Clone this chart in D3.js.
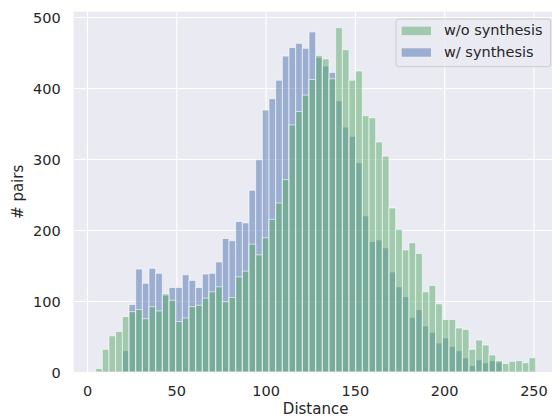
<!DOCTYPE html>
<html>
<head>
<meta charset="utf-8">
<script src="https://cdn.jsdelivr.net/npm/d3@7/dist/d3.min.js"></script>
<style>
  html, body { margin: 0; padding: 0; background: #ffffff; }
  svg { display: block; }
  text { font-family: "DejaVu Sans", sans-serif; fill: #262626; }
</style>
</head>
<body>
<svg id="chart" width="552" height="418"></svg>
<script>
// ---- data ----
const binStart = 4.85;      // left edge of first bin (Distance)
const binWidth = 3.733;     // width of each bin (Distance)
const seriesNames = ["w/o synthesis", "w/ synthesis"];
const woSynthesis = [5, 32, 51, 57, 78, 85, 88, 75, 92, 86, 110, 101, 71, 76, 92, 94, 104, 113, 120, 99,
  105, 134, 142, 180, 165, 189, 215, 238, 271, 348, 367, 390, 412, 446, 441, 413, 485, 454, 411, 424,
  361, 358, 324, 304, 231, 201, 172, 182, 167, 113, 122, 96, 74, 74, 62, 60, 32, 45, 38, 24,
  16, 12, 15, 16, 13, 20];
const wSynthesis = [0, 0, 0, 0, 30, 95, 145, 125, 146, 139, 108, 119, 119, 137, 129, 119, 138, 139, 155, 188,
  185, 212, 210, 256, 299, 369, 385, 411, 445, 457, 463, 456, 479, 443, 431, 422, 382, 345, 332, 295,
  220, 184, 186, 175, 141, 120, 106, 77, 88, 65, 56, 41, 48, 36, 30, 20, 9, 17, 13, 16,
  14, 0, 0, 0, 0, 0];
const xTicks = [0, 50, 100, 150, 200, 250];
const yTicks = [0, 100, 200, 300, 400, 500];
const xLabel = "Distance";
const yLabel = "# pairs";

// ---- layout ----
const plot = { left: 73.66, right: 557.6, top: 11.7, bottom: 372 };
const colors = { "w/o synthesis": "#55A868", "w/ synthesis": "#4C72B0" };

const svg = d3.select("#chart");
const x = d3.scaleLinear().domain([-7.47, 263.5]).range([plot.left, plot.right]);
const y = d3.scaleLinear().domain([0, 507.5]).range([plot.bottom, plot.top]);

svg.append("defs").append("clipPath").attr("id", "clip")
  .append("rect").attr("x", plot.left).attr("y", plot.top)
  .attr("width", plot.right - plot.left).attr("height", plot.bottom - plot.top);

// background
svg.append("rect").attr("x", plot.left).attr("y", plot.top)
  .attr("width", plot.right - plot.left).attr("height", plot.bottom - plot.top)
  .attr("fill", "#EAEAF2");

// gridlines via axes
const gx = svg.append("g").attr("transform", `translate(0,${plot.bottom})`)
  .call(d3.axisBottom(x).tickValues(xTicks).tickSize(-(plot.bottom - plot.top)).tickPadding(10).tickFormat(d3.format("d")));
const gy = svg.append("g").attr("transform", `translate(${plot.left},0)`)
  .call(d3.axisLeft(y).tickValues(yTicks).tickSize(-(plot.right - plot.left)).tickPadding(13).tickFormat(d3.format("d")));
[gx, gy].forEach(g => {
  g.select(".domain").remove();
  g.selectAll(".tick line").attr("stroke", "#ffffff").attr("stroke-width", 1.1);
  g.selectAll(".tick text").attr("fill", "#262626").style("font-size", "14.5px")
    .style("font-family", "DejaVu Sans, sans-serif");
});
gx.selectAll(".tick text").attr("dy", "0.71em").attr("y", 14);
gy.selectAll(".tick text").attr("dy", "0.35em");

// bars
const bars = svg.append("g").attr("clip-path", "url(#clip)");
function drawSeries(values, color) {
  const data = values.map((v, i) => ({ x0: binStart + i * binWidth, x1: binStart + (i + 1) * binWidth, v }))
    .filter(d => d.v > 0);
  bars.append("g").selectAll("rect").data(data).join("rect")
    .attr("x", d => x(d.x0))
    .attr("width", d => x(d.x1) - x(d.x0))
    .attr("y", d => y(d.v))
    .attr("height", d => y(0) - y(d.v))
    .attr("fill", color).attr("fill-opacity", 0.5)
    .attr("stroke", "#ffffff").attr("stroke-opacity", 0.6).attr("stroke-width", 1);
}
drawSeries(wSynthesis, colors["w/ synthesis"]);
drawSeries(woSynthesis, colors["w/o synthesis"]);

// axis labels
svg.append("text").attr("x", (plot.left + plot.right) / 2).attr("y", 414)
  .attr("text-anchor", "middle").style("font-size", "15px").text(xLabel);
svg.append("text").attr("transform", `translate(23,${(plot.top + plot.bottom) / 2}) rotate(-90)`)
  .attr("text-anchor", "middle").style("font-size", "15px").text(yLabel);

// legend
const lg = svg.append("g");
lg.append("rect").attr("x", 396).attr("y", 19).attr("width", 154.7).attr("height", 47.7)
  .attr("rx", 3).attr("fill", "#EAEAF2").attr("fill-opacity", 0.8)
  .attr("stroke", "#cccccc").attr("stroke-width", 1);
seriesNames.forEach((name, i) => {
  const yy = 26.7 + i * 21.6;
  lg.append("rect").attr("x", 401.7).attr("y", yy).attr("width", 29.3).attr("height", 8.4)
    .attr("fill", colors[name]).attr("fill-opacity", 0.5);
  lg.append("text").attr("x", 444).attr("y", yy + 8.5).style("font-size", "14.5px").text(name);
});
</script>
</body>
</html>
